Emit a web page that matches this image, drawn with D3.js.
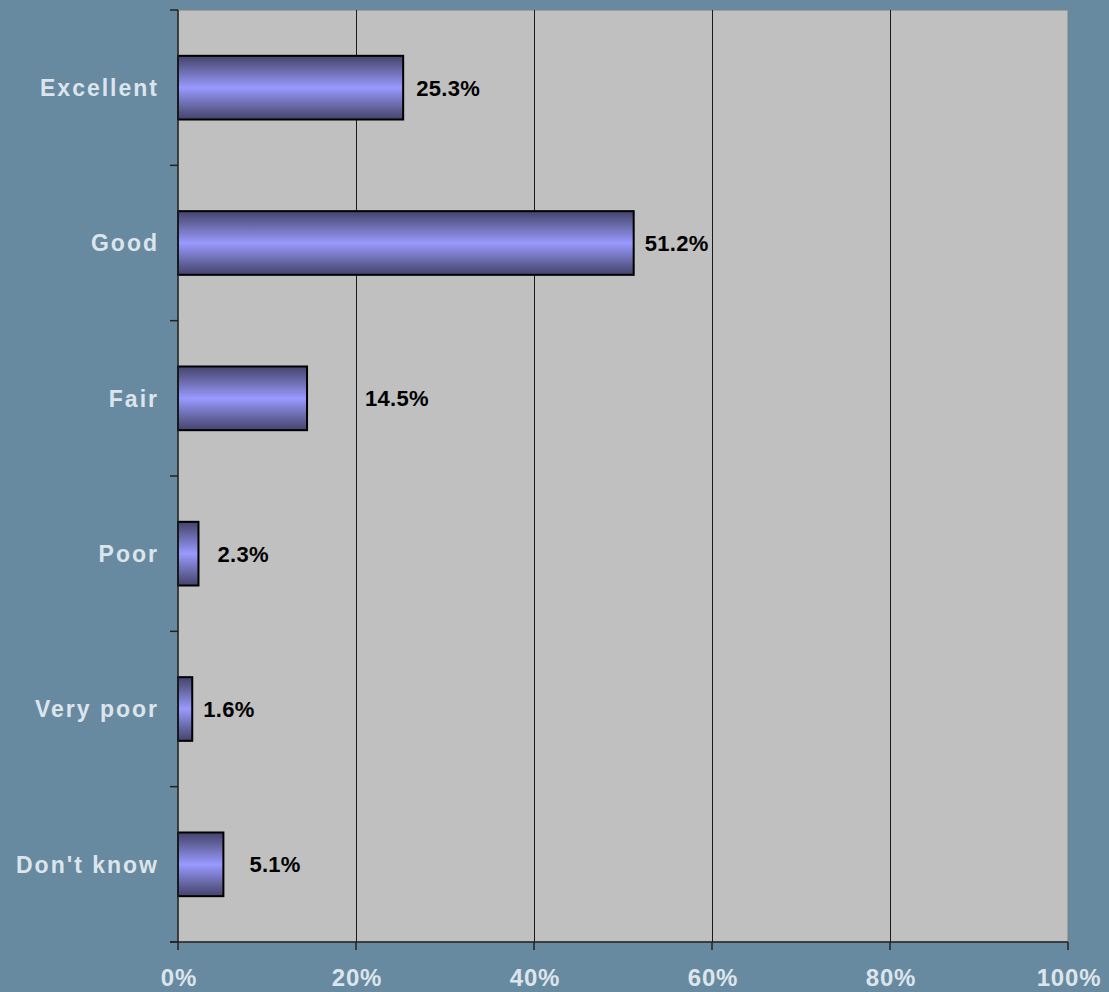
<!DOCTYPE html>
<html>
<head>
<meta charset="utf-8">
<script src="https://cdn.jsdelivr.net/npm/d3@7"></script>
<style>
  html, body { margin: 0; padding: 0; background: #678aa0; }
  svg { display: block; }
</style>
</head>
<body>
<svg id="chart" width="1109" height="992"></svg>
<script>
// Survey ratings, share of respondents
const categories = ["Excellent", "Good", "Fair", "Poor", "Very poor", "Don't know"];
const values = [25.3, 51.2, 14.5, 2.3, 1.6, 5.1];
const tickValues = [0, 20, 40, 60, 80, 100];

const W = 1109, H = 992;
const margin = { top: 10, right: 41, bottom: 50, left: 178 };
const svg = d3.select("#chart");

const x = d3.scaleLinear().domain([0, 100]).range([margin.left, W - margin.right]);
const y = d3.scaleBand().domain(categories).range([margin.top, H - margin.bottom]).paddingInner(0.59).paddingOuter(0.295);
const yBand = d3.scaleBand().domain(categories).range([margin.top, H - margin.bottom]);

// Bar gradient: dark edges, light centre
const defs = svg.append("defs");
const grad = defs.append("linearGradient").attr("id", "barGrad")
  .attr("x1", 0).attr("y1", 0).attr("x2", 0).attr("y2", 1);
[[0, "#43436e"], [0.18, "#62629c"], [0.5, "#9999ff"], [0.82, "#62629c"], [1, "#43436e"]]
  .forEach(([o, c]) => grad.append("stop").attr("offset", o).attr("stop-color", c));

// Plot area
svg.append("rect")
  .attr("x", x(0)).attr("y", margin.top)
  .attr("width", x(100) - x(0)).attr("height", H - margin.bottom - margin.top)
  .attr("fill", "#c0c0c0")
  .attr("stroke", "#808080").attr("stroke-width", 1);

// Vertical gridlines
svg.append("g").selectAll("line").data(tickValues.slice(1, -1)).join("line")
  .attr("x1", d => Math.round(x(d)) + 0.5).attr("x2", d => Math.round(x(d)) + 0.5)
  .attr("y1", margin.top).attr("y2", H - margin.bottom)
  .attr("stroke", "#1a1a1a").attr("stroke-width", 1);

// Bars
svg.append("g").selectAll("rect").data(categories).join("rect")
  .attr("x", x(0))
  .attr("y", d => y(d))
  .attr("width", (d, i) => x(values[i]) - x(0))
  .attr("height", y.bandwidth())
  .attr("fill", "url(#barGrad)")
  .attr("stroke", "#000").attr("stroke-width", 2);

// Value labels
const labelNudge = [13, 11, 58, 19, 11, 26];
svg.append("g").selectAll("text").data(categories).join("text")
  .attr("x", (d, i) => x(values[i]) + labelNudge[i])
  .attr("y", d => y(d) + y.bandwidth() / 2)
  .attr("dy", "0.36em")
  .attr("font-family", "'Liberation Sans', Arial, sans-serif")
  .attr("font-weight", "bold")
  .attr("font-size", 22)
  .attr("letter-spacing", "0.3px")
  .attr("fill", "#000")
  .text((d, i) => values[i].toFixed(1) + "%");

// Category axis (left)
const yAxis = svg.append("g");
yAxis.append("line")
  .attr("x1", x(0)).attr("x2", x(0))
  .attr("y1", margin.top).attr("y2", H - margin.bottom)
  .attr("stroke", "#222").attr("stroke-width", 1.5);
const boundaries = categories.map(c => yBand(c)).concat([H - margin.bottom]);
yAxis.selectAll("line.tick").data(boundaries).join("line").attr("class", "tick")
  .attr("x1", x(0) - 8).attr("x2", x(0))
  .attr("y1", d => d).attr("y2", d => d)
  .attr("stroke", "#222").attr("stroke-width", 1.5);
yAxis.selectAll("text").data(categories).join("text")
  .attr("x", x(0) - 19)
  .attr("y", d => yBand(d) + yBand.bandwidth() / 2)
  .attr("dy", "0.36em")
  .attr("text-anchor", "end")
  .attr("font-family", "'Liberation Sans', Arial, sans-serif")
  .attr("font-weight", "bold")
  .attr("font-size", 23)
  .attr("letter-spacing", "2px")
  .attr("fill", "#dde5ec")
  .text(d => d);

// Value axis (bottom)
const xAxis = svg.append("g");
xAxis.append("line")
  .attr("x1", x(0) - 8).attr("x2", x(100))
  .attr("y1", H - margin.bottom).attr("y2", H - margin.bottom)
  .attr("stroke", "#222").attr("stroke-width", 1.5);
xAxis.selectAll("line.tick").data(tickValues).join("line").attr("class", "tick")
  .attr("x1", d => x(d)).attr("x2", d => x(d))
  .attr("y1", H - margin.bottom).attr("y2", H - margin.bottom + 8)
  .attr("stroke", "#222").attr("stroke-width", 1.5);
xAxis.selectAll("text").data(tickValues).join("text")
  .attr("x", d => x(d) + 1)
  .attr("y", 986)
  .attr("text-anchor", "middle")
  .attr("font-family", "'Liberation Sans', Arial, sans-serif")
  .attr("font-weight", "bold")
  .attr("font-size", 24)
  .attr("letter-spacing", "0.8px")
  .attr("fill", "#dde5ec")
  .text(d => d + "%");
</script>
</body>
</html>
